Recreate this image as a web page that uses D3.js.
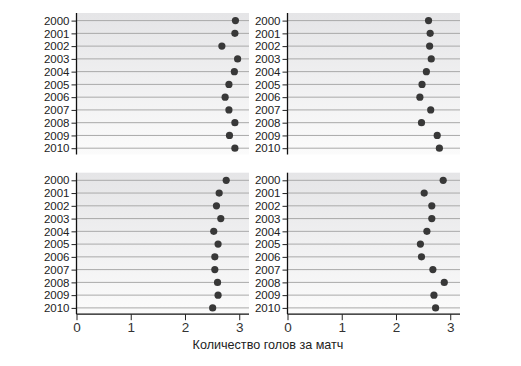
<!DOCTYPE html>
<html><head><meta charset="utf-8">
<script src="https://cdn.jsdelivr.net/npm/d3@7"></script>
<style>body{margin:0;background:#fff;}svg{display:block;font-family:"Liberation Sans",Arial,sans-serif;}</style>
</head><body>
<svg id="c" width="521" height="366"></svg>
<script>
const years = ["2000","2001","2002","2003","2004","2005","2006","2007","2008","2009","2010"];
const topLeft = [2.93,2.92,2.68,2.97,2.91,2.81,2.74,2.81,2.92,2.82,2.92];
const topRight = [2.60,2.63,2.62,2.65,2.56,2.48,2.44,2.64,2.47,2.76,2.80];
const bottomLeft = [2.76,2.63,2.58,2.66,2.53,2.61,2.55,2.55,2.60,2.61,2.51];
const bottomRight = [2.87,2.52,2.66,2.66,2.57,2.45,2.47,2.68,2.89,2.70,2.73];
const xTicks = [0,1,2,3];
const xTitle = "Количество голов за матч";

const svg = d3.select("#c");
const defs = svg.append("defs");
const grad = defs.append("linearGradient").attr("id","bg").attr("x1",0).attr("y1",0).attr("x2",0).attr("y2",1);
grad.append("stop").attr("offset","0%").attr("stop-color","#e5e5e7");
grad.append("stop").attr("offset","100%").attr("stop-color","#fbfbfb");

const panels = [
  {vals: topLeft, x0: 76.5, y0: 13, xAxis: false},
  {vals: topRight, x0: 287.5, y0: 13, xAxis: false},
  {vals: bottomLeft, x0: 76.5, y0: 172.7, xAxis: true},
  {vals: bottomRight, x0: 287.5, y0: 172.7, xAxis: true}
];
const pw = 172.5, ph = 141.5;

panels.forEach(p => {
  const g = svg.append("g").attr("transform", `translate(${p.x0},${p.y0})`);
  const x = d3.scaleLinear().domain([0, 3.18]).range([0, pw]);
  const y = d3.scalePoint().domain(years).range([7.6, ph - 6.3]);
  g.append("rect").attr("width", pw).attr("height", ph).attr("fill", "url(#bg)");
  g.selectAll("line.grid").data(years).enter().append("line")
    .attr("x1", 0).attr("x2", pw).attr("y1", d => y(d)).attr("y2", d => y(d))
    .attr("stroke", "#a9a9a9").attr("stroke-width", 1);
  const ya = g.append("g").call(d3.axisLeft(y).tickSize(5).tickPadding(2));
  ya.select(".domain").attr("stroke", "#111").attr("stroke-width", 1.3).attr("d", `M0,0V${ph}`);
  ya.selectAll(".tick line").attr("stroke", "#222");
  ya.selectAll(".tick text").attr("font-size", 11.5).attr("fill", "#222").attr("font-family", '"Liberation Sans",Arial,sans-serif');
  if (p.xAxis) {
    const xa = g.append("g").attr("transform", `translate(0,${ph})`)
      .call(d3.axisBottom(x).tickValues(xTicks).tickFormat(d3.format("d")).tickSize(6).tickPadding(2));
    xa.select(".domain").attr("stroke", "#111").attr("stroke-width", 1.3).attr("d", `M0,0H${pw}`);
    xa.selectAll(".tick line").attr("stroke", "#222");
    xa.selectAll(".tick text").attr("font-size", 13.5).attr("fill", "#333").attr("font-family", '"Liberation Sans",Arial,sans-serif');
  }
  g.selectAll("circle").data(p.vals).enter().append("circle")
    .attr("cx", d => x(d)).attr("cy", (d, i) => y(years[i])).attr("r", 3.6)
    .attr("fill", "#383838");
});

svg.append("text").attr("x", 268).attr("y", 349).attr("text-anchor", "middle")
  .attr("font-size", 12.6).attr("fill", "#222").text(xTitle);
</script>
</body></html>
